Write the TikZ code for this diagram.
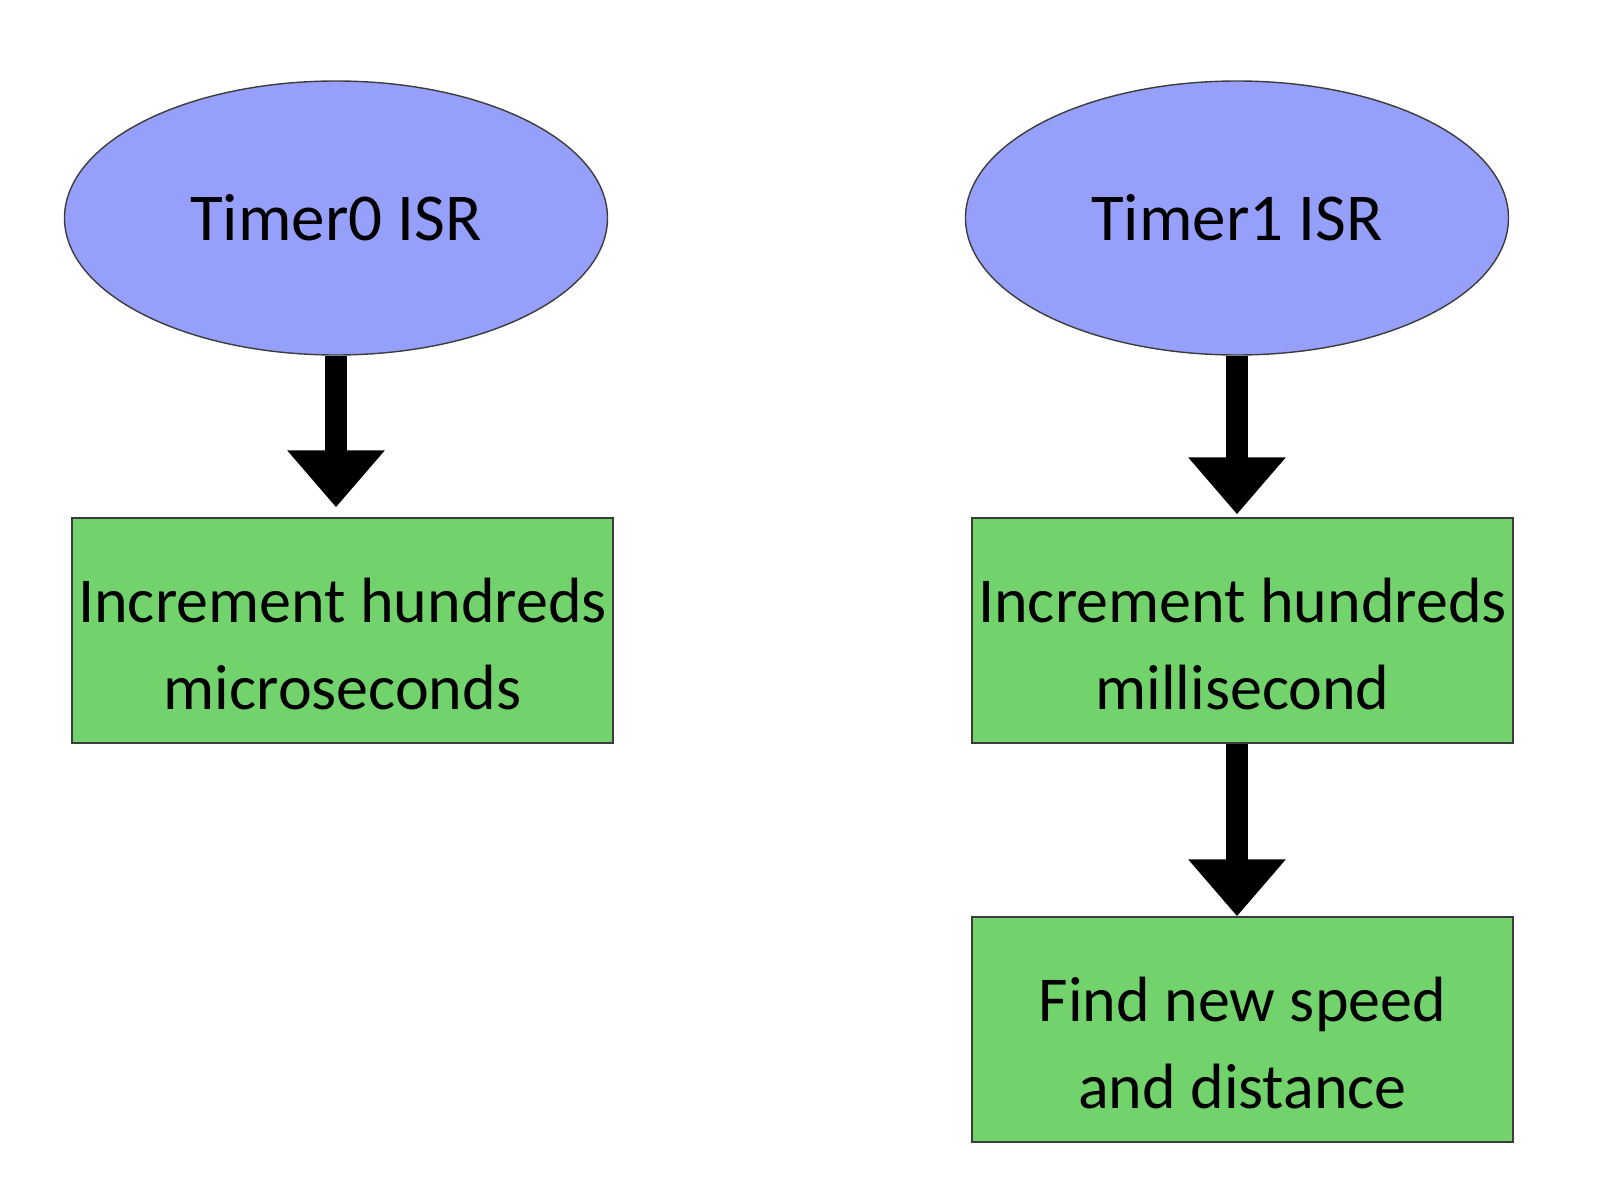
\documentclass[tikz,border=0pt]{standalone}
\usepackage{fontspec}
\setmainfont{Carlito}
\usetikzlibrary{arrows.meta,shapes.geometric}
\definecolor{ovalblue}{RGB}{150,160,250}
\definecolor{boxgreen}{RGB}{114,211,108}
\definecolor{edgegray}{RGB}{60,60,60}
\tikzset{
  startoval/.style={ellipse, draw=edgegray, line width=0.7pt, fill=ovalblue, minimum width=271.5pt, minimum height=137pt, inner sep=0pt, font=\fontsize{33.5}{44}\selectfont},
  taskbox/.style={rectangle, draw=edgegray, line width=0.7pt, fill=boxgreen, minimum width=270.5pt, minimum height=112.5pt, inner sep=0pt},
  boxtext/.style={inner sep=0pt, align=center, font=\fontsize{32}{43.5}\selectfont},
  bigarrow/.style={line width=11pt, -{Triangle[length=28.5pt,width=47pt]}}
}
\begin{document}
\begin{tikzpicture}[x=0.5pt,y=-0.5pt]
\useasboundingbox (0,0) rectangle (1614,1204);
\node[startoval] (t0) at (336,218) {Timer0 ISR};
\node[startoval] (t1) at (1237,218) {Timer1 ISR};
\node[taskbox] (b0) at (342.5,630.5) {};
\node[taskbox] (b1) at (1242.5,630.5) {};
\node[taskbox] (b2) at (1242.5,1029.5) {};
\node[boxtext] (b0t) at ([yshift=-7pt]b0.center) {Increment hundreds\\microseconds};
\node[boxtext] (b1t) at ([yshift=-7pt]b1.center) {Increment hundreds\\millisecond};
\node[boxtext] (b2t) at ([yshift=-7pt]b2.center) {Find new speed\\and distance};
\draw[bigarrow, shorten >=5pt] (t0.south) -- (t0.south |- b0.north);
\draw[bigarrow, shorten >=1.5pt] (t1.south) -- (t1.south |- b1.north);
\draw[bigarrow] (t1.south |- b1.south) -- (t1.south |- b2.north);
\end{tikzpicture}
\end{document}
